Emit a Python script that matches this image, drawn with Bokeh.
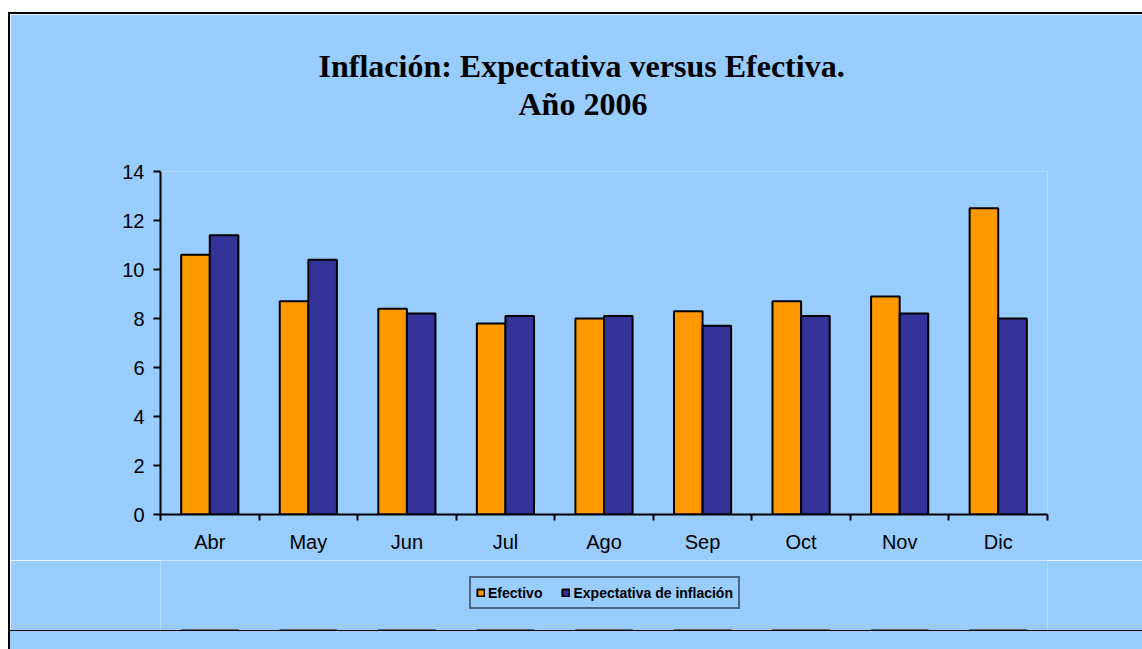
import numpy as np
from bokeh.plotting import figure
from bokeh.models import Range1d, FixedTicker, Legend, LegendItem, Title, Div, Spacer
from bokeh.layouts import column, row
from bokeh.embed import file_html
from bokeh.resources import INLINE

# ---- data ----
months = ["Abr", "May", "Jun", "Jul", "Ago", "Sep", "Oct", "Nov", "Dic"]
efectivo = [10.6, 8.7, 8.4, 7.8, 8.0, 8.3, 8.7, 8.9, 12.5]
expectativa = [11.4, 10.4, 8.2, 8.1, 8.1, 7.7, 8.1, 8.2, 8.0]
y_ticks = [0, 2, 4, 6, 8, 10, 12, 14]
title_line1 = "Inflación: Expectativa versus Efectiva."
title_line2 = "Año 2006"
series_names = ["Efectivo", "Expectativa de inflación"]

BG = "#99CCFF"
ORANGE = "#FF9900"
NAVY = "#333399"

n = len(months)
centers = np.arange(n) + 0.5
bw = 0.29

p = figure(frame_width=887, frame_height=343,
           x_range=Range1d(0, n), y_range=Range1d(0, 14),
           output_backend="svg", toolbar_location=None,
           min_border_left=150, min_border_right=95,
           min_border_top=157, min_border_bottom=46)
p.background_fill_color = BG
p.border_fill_color = BG
p.outline_line_color = None
p.grid.visible = False

bar_style = dict(width=bw, line_color="black", line_width=2)
p.vbar(x=centers - bw / 2, top=efectivo, fill_color=ORANGE, **bar_style)
p.vbar(x=centers + bw / 2, top=expectativa, fill_color=NAVY, **bar_style)

# x axis: labels at centres, ticks at category boundaries
xa = p.xaxis[0]
xa.ticker = FixedTicker(ticks=[float(c) for c in centers],
                        minor_ticks=[float(i) for i in range(n + 1)])
xa.major_label_overrides = {float(c): m for c, m in zip(centers, months)}
xa.major_tick_line_color = None
xa.major_tick_out = 6
xa.minor_tick_out = 6
xa.minor_tick_in = 0
xa.minor_tick_line_color = "black"
xa.minor_tick_line_width = 2
xa.axis_line_width = 2
xa.axis_line_color = "black"
xa.major_label_text_font = "Liberation Sans"
xa.major_label_text_font_size = "20px"
xa.major_label_text_color = "black"
xa.major_label_standoff = 10

ya = p.yaxis[0]
ya.ticker = FixedTicker(ticks=y_ticks)
ya.major_tick_out = 7
ya.major_tick_in = 0
ya.major_tick_line_width = 2
ya.major_tick_line_color = "black"
ya.minor_tick_line_color = None
ya.axis_line_width = 2
ya.axis_line_color = "black"
ya.major_label_text_font = "Liberation Sans"
ya.major_label_text_font_size = "20px"
ya.major_label_text_color = "black"
ya.major_label_standoff = 9

# titles (stacked upward from the frame)
title_style = dict(text_font="Liberation Serif", text_font_size="32px",
                   text_font_style="bold", text_color="black")
gap = Title(text="\u00a0", align="left", standoff=12, **title_style)
t2 = Title(text=title_line2, align="left", offset=358, standoff=0, **title_style)
t1 = Title(text=title_line1, align="left", offset=158, standoff=0, **title_style)
p.add_layout(gap, "above")
p.add_layout(t2, "above")
p.add_layout(t1, "above")

# legend strip (same series, bars kept below its visible range)
p2 = figure(width=1132, height=70, x_range=Range1d(0, n), y_range=Range1d(50, 64),
            output_backend="svg", toolbar_location=None,
            x_axis_type=None, y_axis_type=None,
            min_border_left=0, min_border_right=0,
            min_border_top=0, min_border_bottom=0)
p2.background_fill_color = BG
p2.border_fill_color = BG
p2.outline_line_color = None
p2.grid.visible = False
q1 = p2.vbar(x=centers - bw / 2, top=efectivo, fill_color=ORANGE, **bar_style)
q2 = p2.vbar(x=centers + bw / 2, top=expectativa, fill_color=NAVY, **bar_style)

legend = Legend(items=[LegendItem(label=series_names[0], renderers=[q1]),
                       LegendItem(label=series_names[1], renderers=[q2])],
                orientation="horizontal", location=(309, 21))
legend.label_text_font = "Liberation Sans"
legend.label_text_font_size = "14px"
legend.label_text_font_style = "bold"
legend.label_text_color = "black"
legend.glyph_width = 9
legend.glyph_height = 9
legend.label_standoff = 3
legend.label_height = 19
legend.spacing = 19
legend.padding = 5
legend.margin = 0
legend.border_line_color = "black"
legend.border_line_width = 2
legend.background_fill_color = BG
legend.background_fill_alpha = 1
p2.add_layout(legend, "center")

def bar_div(w, h, color):
    return Div(width=w, height=h, margin=0,
               styles={"background-color": color})

right_part = column(bar_div(1132, 2, "black"), p, p2,
                    bar_div(1132, 1, "black"), bar_div(1132, 18, BG))
layout = column(Spacer(width=1142, height=12, margin=0),
                row(Spacer(width=8, height=637, margin=0),
                    bar_div(2, 637, "black"), right_part))

open("out.html", "w").write(file_html(layout, INLINE))
